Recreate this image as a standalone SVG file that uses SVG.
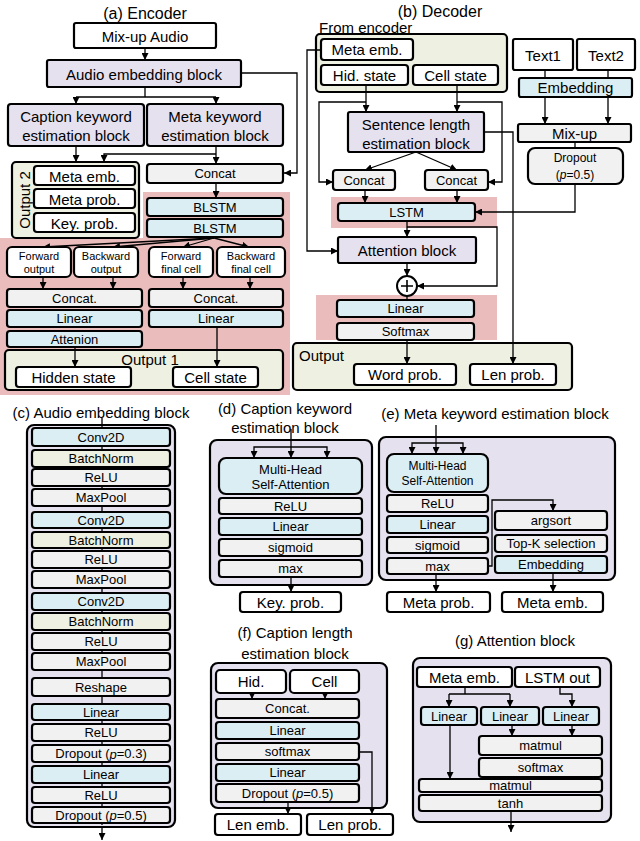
<svg xmlns="http://www.w3.org/2000/svg" width="640" height="841" viewBox="0 0 640 841">
<defs>
<marker id="ah" viewBox="0 0 10 10" refX="10" refY="5" markerWidth="7" markerHeight="7" markerUnits="userSpaceOnUse" orient="auto"><path d="M0,0 L10,5 L0,10 z" fill="#000"/></marker>
<style>
text{font-family:"Liberation Sans",Arial,sans-serif;fill:#000;text-anchor:middle;dominant-baseline:central}
.t16{font-size:16px}.t15{font-size:15px}.t13{font-size:13px}.t12{font-size:12px}.t11{font-size:11px}
rect.bx{stroke:#000;stroke-width:2.2}
.w{fill:#fff}.lav{fill:#e6e1ef}.blu{fill:#dbeef4}.gry{fill:#f1f1f1}.grn{fill:#eef0e1}.pink{fill:#ebbcbc;stroke:none}
.ln{stroke:#000;stroke-width:1.3;fill:none}
.ar{marker-end:url(#ah)}
</style>
</defs>

<g id="bg">
<rect class="pink" x="143" y="192" width="147" height="50"/>
<rect class="pink" x="0" y="238" width="290" height="157"/>
<rect class="pink" x="331" y="197" width="166" height="31"/>
<rect class="pink" x="316" y="295" width="181" height="45"/>
</g>

<g id="titles">
<text class="t16" x="145" y="13">(a) Encoder</text>
<text class="t16" x="440" y="11">(b) Decoder</text>
<text class="t15" x="319" y="27" style="text-anchor:start">From encoder</text>
<text class="t15" x="101" y="412">(c) Audio embedding  block</text>
<text class="t15" x="285" y="408">(d) Caption keyword</text>
<text class="t15" x="285" y="427">estimation block</text>
<text class="t15" x="495" y="413">(e) Meta keyword  estimation block</text>
<text class="t15" x="295" y="632">(f) Caption length</text>
<text class="t15" x="295" y="653">estimation block</text>
<text class="t15" x="515" y="640">(g) Attention block</text>
</g>

<g id="containers">
<rect id="enc-out2" class="bx grn" x="12" y="162" width="127" height="76" rx="4"/>
<rect id="enc-out1" class="bx grn" x="5" y="350" width="278" height="40" rx="4"/>
<rect id="dec-from" class="bx grn" x="316" y="34" width="191" height="58" rx="4"/>
<rect id="dec-out" class="bx grn" x="293" y="343" width="279" height="47" rx="4"/>
<rect id="c-outer" class="bx lav" x="27" y="425" width="148" height="402" rx="7"/>
<rect id="d-outer" class="bx lav" x="210" y="440" width="162" height="145" rx="7"/>
<rect id="e-outer" class="bx lav" x="379" y="437" width="236" height="143" rx="7"/>
<rect id="f-outer" class="bx lav" x="211" y="663" width="176" height="145" rx="7"/>
<rect id="g-outer" class="bx lav" x="413" y="658" width="198" height="164" rx="7"/>
<text class="t15" x="24" y="200" transform="rotate(-90 24 200)">Output 2</text>
<text class="t15" x="150" y="359">Output 1</text>
<text class="t15" x="299" y="355" style="text-anchor:start">Output</text>
</g>

<g id="connectors">
<path class="ln ar" d="M145,48 V60"/>
<path class="ln" d="M145,87 V97 M76,97 H216"/>
<path class="ln ar" d="M76,97 V104"/>
<path class="ln ar" d="M216,97 V104"/>
<path class="ln ar" d="M241,73 H297 V173 H284"/>
<path class="ln ar" d="M76,146 V162"/>
<path class="ln ar" d="M216,146 V164"/>
<path class="ln ar" d="M216,154 H104 V162"/>
<path class="ln ar" d="M216,183 V198"/>
<path class="ln ar" d="M214,238 L43,247"/>
<path class="ln ar" d="M214,238 L113,247"/>
<path class="ln ar" d="M214,238 L183,247"/>
<path class="ln ar" d="M214,238 L249,247"/>
<path class="ln ar" d="M43,277 V289"/>
<path class="ln ar" d="M113,277 V289"/>
<path class="ln ar" d="M183,277 V289"/>
<path class="ln ar" d="M250,277 V289"/>
<path class="ln ar" d="M75,347 V367"/>
<path class="ln ar" d="M217,327 V367"/>
<path class="ln ar" d="M366,85 V112"/>
<path class="ln ar" d="M457,85 V112"/>
<path class="ln ar" d="M366,102 H319 V182 H333"/>
<path class="ln ar" d="M457,102 H502 V182 H488"/>
<path class="ln ar" d="M416,152 L365,170"/>
<path class="ln ar" d="M416,152 L457,170"/>
<path class="ln ar" d="M484,132 H513 V364"/>
<path class="ln ar" d="M321,50 H307 V251 H338"/>
<path class="ln" d="M545,70 V78 M608,70 V78"/>
<path class="ln ar" d="M545,97 V124"/>
<path class="ln ar" d="M608,97 V124"/>
<path class="ln" d="M575,142 V148"/>
<path class="ln ar" d="M575,184 V212 H475"/>
<path class="ln ar" d="M365,190 V203"/>
<path class="ln ar" d="M457,190 V203"/>
<path class="ln ar" d="M407,221 V237"/>
<path class="ln ar" d="M407,227 H497 V286 H417"/>
<path class="ln ar" d="M407,263 V276"/>
<path class="ln" d="M407,296 V300"/>
<path class="ln ar" d="M407,340 V364"/>
<path class="ln" d="M102,418 V825"/>
<path class="ln ar" d="M102,827 V840"/>
<path class="ln ar" d="M291,429 V458"/>
<path class="ln ar" d="M291,447 H254 V458"/>
<path class="ln ar" d="M291,447 H327 V458"/>
<path class="ln ar" d="M291,577 V592"/>
<path class="ln ar" d="M436,425 V454"/>
<path class="ln ar" d="M436,443 H412 V454"/>
<path class="ln ar" d="M436,443 H463 V454"/>
<path class="ln ar" d="M488,566 H492 V500 H553 V511"/>
<path class="ln ar" d="M436,574 V592"/>
<path class="ln ar" d="M553,573 V592"/>
<path class="ln ar" d="M252,693 V699"/>
<path class="ln ar" d="M325,693 V699"/>
<path class="ln ar" d="M359,752 H372 V814"/>
<path class="ln ar" d="M288,802 V814"/>
<path class="ln" d="M465,687 V694 M449,694 H510"/>
<path class="ln ar" d="M449,694 V707"/>
<path class="ln ar" d="M510,694 V707"/>
<path class="ln ar" d="M560,687 V694 H572 V707"/>
<path class="ln ar" d="M512,725 V736"/>
<path class="ln ar" d="M572,725 V736"/>
<path class="ln" d="M542,777 V779"/>
<path class="ln ar" d="M450,725 V779"/>
<path class="ln ar" d="M511,811 V832"/>
</g>

<g id="enc-mixup"><rect class="bx w" x="74" y="23" width="142" height="25" rx="2"/><text class="t15" x="145" y="36">Mix-up Audio</text></g>
<g id="enc-audioemb"><rect class="bx lav" x="47" y="60" width="194" height="27" rx="2"/><text class="t15" x="144" y="74">Audio embedding block</text></g>
<g id="enc-capkw"><rect class="bx lav" x="8" y="104" width="136" height="42" rx="3"/><text class="t15" x="76" y="116">Caption keyword</text><text class="t15" x="76" y="135">estimation block</text></g>
<g id="enc-metakw"><rect class="bx lav" x="147" y="104" width="136" height="42" rx="3"/><text class="t15" x="215" y="116">Meta keyword</text><text class="t15" x="215" y="135">estimation block</text></g>
<g id="enc-metaemb"><rect class="bx w" x="34" y="166" width="101" height="19" rx="3"/><text class="t15" x="84.5" y="176">Meta emb.</text></g>
<g id="enc-metaprob"><rect class="bx w" x="34" y="189" width="101" height="19" rx="3"/><text class="t15" x="84.5" y="199">Meta prob.</text></g>
<g id="enc-keyprob"><rect class="bx w" x="34" y="213" width="101" height="19" rx="3"/><text class="t15" x="84.5" y="223">Key. prob.</text></g>
<g id="enc-concat"><rect class="bx gry" x="147" y="164" width="136" height="19" rx="3"/><text class="t13" x="215" y="173.5">Concat</text></g>
<g id="enc-blstm1"><rect class="bx blu" x="147" y="198" width="136" height="18" rx="3"/><text class="t13" x="215" y="207">BLSTM</text></g>
<g id="enc-blstm2"><rect class="bx blu" x="147" y="219" width="136" height="18" rx="3"/><text class="t13" x="215" y="228">BLSTM</text></g>
<g id="enc-fwdout"><rect class="bx w" x="7" y="247" width="64" height="30" rx="5"/><text class="t11" x="39" y="256">Forward</text><text class="t11" x="39" y="269">output</text></g>
<g id="enc-bwdout"><rect class="bx w" x="74" y="247" width="64" height="30" rx="5"/><text class="t11" x="106" y="256">Backward</text><text class="t11" x="106" y="269">output</text></g>
<g id="enc-fwdcell"><rect class="bx w" x="149" y="247" width="64" height="30" rx="5"/><text class="t11" x="181" y="256">Forward</text><text class="t11" x="181" y="269">final cell</text></g>
<g id="enc-bwdcell"><rect class="bx w" x="217" y="247" width="68" height="30" rx="5"/><text class="t11" x="251" y="256">Backward</text><text class="t11" x="251" y="269">final cell</text></g>
<g id="enc-concatL"><rect class="bx gry" x="7" y="289" width="135" height="18" rx="3"/><text class="t13" x="74.5" y="298">Concat.</text></g>
<g id="enc-concatR"><rect class="bx gry" x="149" y="289" width="134" height="18" rx="3"/><text class="t13" x="216" y="298">Concat.</text></g>
<g id="enc-linearL"><rect class="bx blu" x="7" y="310" width="135" height="17" rx="3"/><text class="t13" x="74.5" y="318.5">Linear</text></g>
<g id="enc-linearR"><rect class="bx blu" x="149" y="310" width="134" height="17" rx="3"/><text class="t13" x="216" y="318.5">Linear</text></g>
<g id="enc-attn"><rect class="bx blu" x="7" y="331" width="135" height="16" rx="3"/><text class="t13" x="74.5" y="339">Attenion</text></g>
<g id="enc-hidden"><rect class="bx w" x="16" y="367" width="115" height="20" rx="3"/><text class="t15" x="73.5" y="377">Hidden state</text></g>
<g id="enc-cell"><rect class="bx w" x="173" y="367" width="85" height="20" rx="3"/><text class="t15" x="215.5" y="377">Cell state</text></g>

<g id="dec-metaemb"><rect class="bx w" x="321" y="39" width="92" height="21" rx="3"/><text class="t15" x="367" y="49.5">Meta emb.</text></g>
<g id="dec-hid"><rect class="bx w" x="321" y="65" width="87" height="20" rx="3"/><text class="t15" x="364.5" y="75">Hid. state</text></g>
<g id="dec-cell"><rect class="bx w" x="413" y="65" width="85" height="20" rx="3"/><text class="t15" x="455.5" y="75">Cell state</text></g>
<g id="dec-sentlen"><rect class="bx lav" x="348" y="112" width="136" height="40" rx="2"/><text class="t15" x="416" y="124">Sentence length</text><text class="t15" x="416" y="143">estimation block</text></g>
<g id="dec-concatL"><rect class="bx gry" x="333" y="170" width="62" height="20" rx="3"/><text class="t13" x="364" y="180">Concat</text></g>
<g id="dec-concatR"><rect class="bx gry" x="425" y="170" width="63" height="20" rx="3"/><text class="t13" x="456.5" y="180">Concat</text></g>
<g id="dec-text1"><rect class="bx w" x="513" y="39" width="60" height="31" rx="2"/><text class="t15" x="543" y="55">Text1</text></g>
<g id="dec-text2"><rect class="bx w" x="577" y="39" width="58" height="31" rx="2"/><text class="t15" x="606" y="55">Text2</text></g>
<g id="dec-embed"><rect class="bx blu" x="519" y="78" width="113" height="19" rx="2"/><text class="t15" x="575.5" y="87.5">Embedding</text></g>
<g id="dec-mixup"><rect class="bx gry" x="518" y="124" width="113" height="18" rx="2"/><text class="t15" x="574.5" y="133">Mix-up</text></g>
<g id="dec-dropout"><rect class="bx gry" x="528" y="148" width="95" height="36" rx="7"/><text class="t12" x="575" y="158">Dropout</text><text class="t12" x="575" y="175">(<tspan font-style="italic">p</tspan>=0.5)</text></g>
<g id="dec-lstm"><rect class="bx blu" x="338" y="203" width="137" height="18" rx="3"/><text class="t13" x="406.5" y="212">LSTM</text></g>
<g id="dec-attn"><rect class="bx lav" x="338" y="237" width="138" height="26" rx="2"/><text class="t15" x="407" y="250">Attention block</text></g>
<g id="dec-plus"><circle cx="407" cy="286" r="10" fill="#fff" stroke="#000" stroke-width="2"/><path d="M401,286 H413 M407,280 V292" stroke="#000" stroke-width="1.6"/></g>
<g id="dec-linear"><rect class="bx blu" x="337" y="300" width="137" height="17" rx="3"/><text class="t13" x="405.5" y="308.5">Linear</text></g>
<g id="dec-softmax"><rect class="bx gry" x="337" y="323" width="137" height="17" rx="3"/><text class="t13" x="405.5" y="331.5">Softmax</text></g>
<g id="dec-wordprob"><rect class="bx w" x="354" y="364" width="102" height="21" rx="3"/><text class="t15" x="405" y="374.5">Word prob.</text></g>
<g id="dec-lenprob"><rect class="bx w" x="470" y="364" width="86" height="21" rx="3"/><text class="t15" x="513" y="374.5">Len prob.</text></g>

<g id="c-conv1"><rect class="bx blu" x="32" y="428" width="138" height="18" rx="3"/><text class="t13" x="101" y="437">Conv2D</text></g>
<g id="c-bn1"><rect class="bx grn" x="32" y="450" width="138" height="17" rx="3"/><text class="t13" x="101" y="458.5">BatchNorm</text></g>
<g id="c-relu1"><rect class="bx gry" x="32" y="469" width="138" height="17" rx="3"/><text class="t13" x="101" y="477.5">ReLU</text></g>
<g id="c-pool1"><rect class="bx gry" x="32" y="489" width="138" height="17" rx="3"/><text class="t13" x="101" y="497.5">MaxPool</text></g>
<g id="c-conv2"><rect class="bx blu" x="32" y="512" width="138" height="16" rx="3"/><text class="t13" x="101" y="520">Conv2D</text></g>
<g id="c-bn2"><rect class="bx grn" x="32" y="532" width="138" height="16" rx="3"/><text class="t13" x="101" y="540">BatchNorm</text></g>
<g id="c-relu2"><rect class="bx gry" x="32" y="551" width="138" height="17" rx="3"/><text class="t13" x="101" y="559.5">ReLU</text></g>
<g id="c-pool2"><rect class="bx gry" x="32" y="571" width="138" height="17" rx="3"/><text class="t13" x="101" y="579.5">MaxPool</text></g>
<g id="c-conv3"><rect class="bx blu" x="32" y="593" width="138" height="17" rx="3"/><text class="t13" x="101" y="601.5">Conv2D</text></g>
<g id="c-bn3"><rect class="bx grn" x="32" y="613" width="138" height="17" rx="3"/><text class="t13" x="101" y="621.5">BatchNorm</text></g>
<g id="c-relu3"><rect class="bx gry" x="32" y="633" width="138" height="17" rx="3"/><text class="t13" x="101" y="641.5">ReLU</text></g>
<g id="c-pool3"><rect class="bx gry" x="32" y="653" width="138" height="17" rx="3"/><text class="t13" x="101" y="661.5">MaxPool</text></g>
<g id="c-reshape"><rect class="bx gry" x="32" y="678" width="138" height="18" rx="3"/><text class="t13" x="101" y="687">Reshape</text></g>
<g id="c-lin1"><rect class="bx blu" x="32" y="704" width="138" height="16" rx="3"/><text class="t13" x="101" y="712">Linear</text></g>
<g id="c-relu4"><rect class="bx gry" x="32" y="724" width="138" height="17" rx="3"/><text class="t13" x="101" y="732.5">ReLU</text></g>
<g id="c-drop1"><rect class="bx gry" x="32" y="745" width="138" height="17" rx="3"/><text class="t13" x="101" y="753.5">Dropout  (<tspan font-style="italic">p</tspan>=0.3)</text></g>
<g id="c-lin2"><rect class="bx blu" x="32" y="766" width="138" height="17" rx="3"/><text class="t13" x="101" y="774.5">Linear</text></g>
<g id="c-relu5"><rect class="bx gry" x="32" y="787" width="138" height="16" rx="3"/><text class="t13" x="101" y="795">ReLU</text></g>
<g id="c-drop2"><rect class="bx gry" x="32" y="807" width="138" height="16" rx="3"/><text class="t13" x="101" y="815">Dropout  (<tspan font-style="italic">p</tspan>=0.5)</text></g>

<g id="d-mhsa"><rect class="bx blu" x="219" y="458" width="143" height="36" rx="7"/><text class="t13" x="290.5" y="469">Multi-Head</text><text class="t13" x="290.5" y="484">Self-Attention</text></g>
<g id="d-relu"><rect class="bx gry" x="219" y="498" width="143" height="16" rx="3"/><text class="t13" x="290.5" y="506">ReLU</text></g>
<g id="d-linear"><rect class="bx blu" x="219" y="518" width="143" height="17" rx="3"/><text class="t13" x="290.5" y="526.5">Linear</text></g>
<g id="d-sigmoid"><rect class="bx gry" x="219" y="539" width="143" height="17" rx="3"/><text class="t13" x="290.5" y="547.5">sigmoid</text></g>
<g id="d-max"><rect class="bx gry" x="219" y="560" width="143" height="17" rx="3"/><text class="t13" x="290.5" y="568.5">max</text></g>
<g id="d-keyprob"><rect class="bx w" x="240" y="592" width="101" height="20" rx="3"/><text class="t15" x="290.5" y="602">Key. prob.</text></g>

<g id="e-mhsa"><rect class="bx blu" x="387" y="454" width="101" height="38" rx="7"/><text class="t12" x="437.5" y="466">Multi-Head</text><text class="t12" x="437.5" y="481">Self-Attention</text></g>
<g id="e-relu"><rect class="bx gry" x="387" y="495" width="101" height="17" rx="3"/><text class="t13" x="437.5" y="503.5">ReLU</text></g>
<g id="e-linear"><rect class="bx blu" x="387" y="516" width="101" height="17" rx="3"/><text class="t13" x="437.5" y="524.5">Linear</text></g>
<g id="e-sigmoid"><rect class="bx gry" x="387" y="537" width="101" height="16" rx="3"/><text class="t13" x="437.5" y="545">sigmoid</text></g>
<g id="e-max"><rect class="bx gry" x="387" y="558" width="101" height="16" rx="3"/><text class="t13" x="437.5" y="566">max</text></g>
<g id="e-argsort"><rect class="bx gry" x="495" y="511" width="112" height="19" rx="3"/><text class="t13" x="551" y="520.5">argsort</text></g>
<g id="e-topk"><rect class="bx gry" x="495" y="535" width="112" height="17" rx="3"/><text class="t13" x="551" y="543.5">Top-K selection</text></g>
<g id="e-embed"><rect class="bx blu" x="495" y="556" width="112" height="17" rx="3"/><text class="t13" x="551" y="564.5">Embedding</text></g>
<g id="e-metaprob"><rect class="bx w" x="387" y="592" width="103" height="20" rx="3"/><text class="t15" x="438.5" y="602">Meta prob.</text></g>
<g id="e-metaemb"><rect class="bx w" x="502" y="592" width="101" height="20" rx="3"/><text class="t15" x="552.5" y="602">Meta emb.</text></g>

<g id="f-hid"><rect class="bx w" x="216" y="670" width="70" height="23" rx="4"/><text class="t15" x="251" y="681.5">Hid.</text></g>
<g id="f-cell"><rect class="bx w" x="290" y="670" width="69" height="23" rx="4"/><text class="t15" x="324.5" y="681.5">Cell</text></g>
<g id="f-concat"><rect class="bx gry" x="216" y="699" width="143" height="19" rx="3"/><text class="t13" x="287.5" y="708.5">Concat.</text></g>
<g id="f-lin1"><rect class="bx blu" x="216" y="722" width="143" height="17" rx="3"/><text class="t13" x="287.5" y="730.5">Linear</text></g>
<g id="f-softmax"><rect class="bx gry" x="216" y="743" width="143" height="17" rx="3"/><text class="t13" x="287.5" y="751.5">softmax</text></g>
<g id="f-lin2"><rect class="bx blu" x="216" y="764" width="143" height="17" rx="3"/><text class="t13" x="287.5" y="772.5">Linear</text></g>
<g id="f-drop"><rect class="bx gry" x="216" y="784" width="143" height="18" rx="3"/><text class="t13" x="287.5" y="793">Dropout  (<tspan font-style="italic">p</tspan>=0.5)</text></g>
<g id="f-lenemb"><rect class="bx w" x="215" y="814" width="86" height="21" rx="3"/><text class="t15" x="258" y="824.5">Len emb.</text></g>
<g id="f-lenprob"><rect class="bx w" x="307" y="814" width="86" height="21" rx="3"/><text class="t15" x="350" y="824.5">Len prob.</text></g>

<g id="g-metaemb"><rect class="bx w" x="417" y="667" width="95" height="20" rx="3"/><text class="t15" x="464.5" y="677">Meta emb.</text></g>
<g id="g-lstmout"><rect class="bx w" x="515" y="667" width="85" height="20" rx="3"/><text class="t15" x="557.5" y="677">LSTM out</text></g>
<g id="g-lin1"><rect class="bx blu" x="421" y="707" width="56" height="18" rx="3"/><text class="t13" x="449" y="716">Linear</text></g>
<g id="g-lin2"><rect class="bx blu" x="481" y="707" width="58" height="18" rx="3"/><text class="t13" x="510" y="716">Linear</text></g>
<g id="g-lin3"><rect class="bx blu" x="543" y="707" width="56" height="18" rx="3"/><text class="t13" x="571" y="716">Linear</text></g>
<g id="g-matmul1"><rect class="bx gry" x="479" y="736" width="123" height="19" rx="3"/><text class="t13" x="540.5" y="745.5">matmul</text></g>
<g id="g-softmax"><rect class="bx gry" x="479" y="758" width="123" height="19" rx="3"/><text class="t13" x="540.5" y="767.5">softmax</text></g>
<g id="g-matmul2"><rect class="bx gry" x="419" y="779" width="183" height="13" rx="3"/><text class="t13" x="510.5" y="785.5">matmul</text></g>
<g id="g-tanh"><rect class="bx gry" x="419" y="795" width="183" height="16" rx="3"/><text class="t13" x="510.5" y="803">tanh</text></g>
</svg>
